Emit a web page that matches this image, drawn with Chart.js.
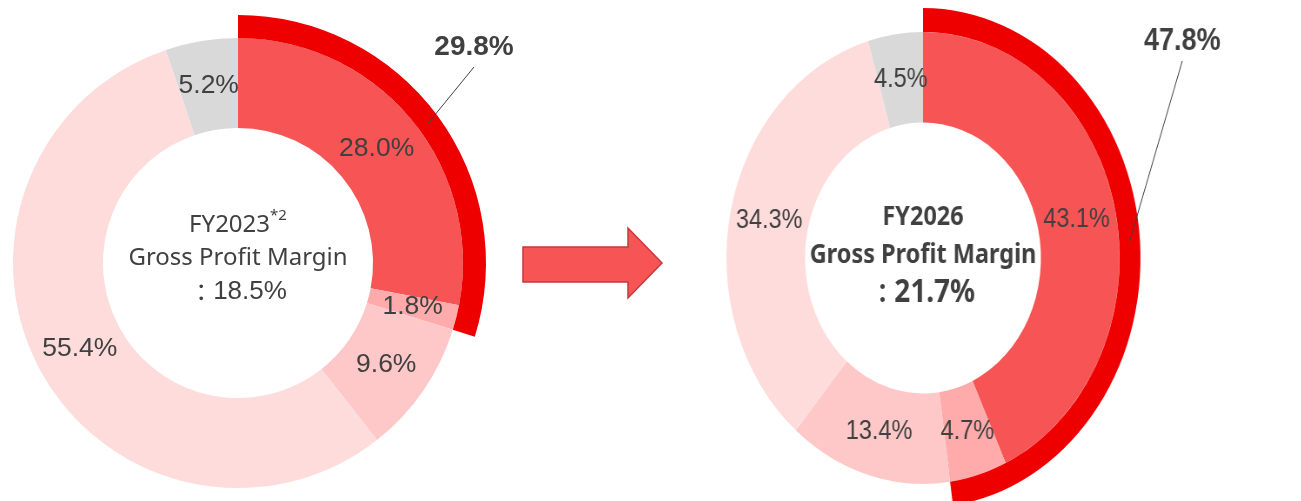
<!DOCTYPE html>
<html>
<head>
<meta charset="utf-8">
<script src="https://cdn.jsdelivr.net/npm/chart.js@4.4.0/dist/chart.umd.min.js"></script>
<style>
  html, body { margin: 0; padding: 0; width: 1301px; height: 501px; overflow: hidden; background: #fff; }
  canvas { position: absolute; }
  #fy2023 { left: -62px; top: 3px; }
  /* the FY2026 ring is drawn slightly narrower than tall */
  #fy2026 { left: 573px; top: -2px; transform: scaleX(0.87); transform-origin: 350px 260px; }
  #arrow { position: absolute; left: 0; top: 0; }
</style>
</head>
<body>
<canvas id="fy2023" width="600" height="520"></canvas>
<svg id="arrow" width="1301" height="501">
  <polygon points="523,247 628,247 628,228 662,263 628,298 628,282 523,282"
           fill="#F75555" stroke="#C23A3A" stroke-width="1.5"/>
</svg>
<canvas id="fy2026" width="700" height="520"></canvas>
<script>
// segment shares of sales, clockwise from 12 o'clock
const fy2023Shares = [28.0, 1.8, 9.6, 55.4, 5.2];
const fy2026Shares = [43.1, 4.7, 13.4, 34.3, 4.5];
// highlighted group (first two segments) shown as the outer red band
const fy2023Highlight = 29.8;
const fy2026Highlight = 47.8;
const fy2023Margin = 18.5;
const fy2026Margin = 21.7;

const sliceColors = ['#F75555', '#FFABAB', '#FFC8C8', '#FFDCDC', '#D9D9D9'];
const bandColor = '#EE0000';
const textColor = '#404040';

const pct = v => v.toFixed(1) + '%';

// slice labels, centre caption and the callout for the outer band
const donutText = {
  id: 'donutText',
  afterDraw(chart, args, opts) {
    const ctx = chart.ctx;
    const band = chart.getDatasetMeta(0).data[0];
    const ring = chart.getDatasetMeta(1).data;
    const cx = band.x, cy = band.y;
    ctx.save();
    ctx.fillStyle = textColor;
    ctx.textAlign = 'center';
    ctx.textBaseline = 'middle';

    ctx.font = opts.sliceFont;
    ring.forEach((arc, i) => {
      const p = arc.getCenterPoint();
      ctx.fillText(pct(chart.data.datasets[1].data[i]), p.x, p.y);
    });

    // centre caption, built from runs of differently styled text
    ctx.textAlign = 'left';
    opts.lines.forEach(line => {
      let w = 0;
      line.runs.forEach(r => { ctx.font = r.font; w += ctx.measureText(r.text).width; });
      let x = cx - w / 2;
      line.runs.forEach(r => {
        ctx.font = r.font;
        ctx.fillText(r.text, x, cy + line.dy - (r.rise || 0));
        x += ctx.measureText(r.text).width;
      });
    });

    // callout for the band total
    const end = band.getCenterPoint();
    const lx = cx + opts.callout.x, ly = cy + opts.callout.y;
    ctx.strokeStyle = textColor;
    ctx.lineWidth = 1;
    ctx.beginPath();
    ctx.moveTo(lx, ly + opts.callout.gap);
    ctx.lineTo(end.x, end.y);
    ctx.stroke();
    ctx.textAlign = 'center';
    ctx.font = opts.callout.font;
    ctx.fillText(pct(chart.data.datasets[0].data[0]), lx, ly);
    ctx.restore();
  }
};

function makeDonut(id, shares, highlight, radii, textOpts) {
  return new Chart(document.getElementById(id), {
    type: 'doughnut',
    data: {
      datasets: [
        {
          data: [highlight, 100 - highlight],
          backgroundColor: [bandColor, 'rgba(0,0,0,0)'],
          borderWidth: 0,
          weight: radii.outer - radii.ring
        },
        {
          data: shares,
          backgroundColor: sliceColors,
          borderWidth: 0,
          weight: radii.ring - radii.hole
        }
      ]
    },
    options: {
      responsive: false,
      animation: false,
      events: [],
      radius: radii.outer,
      cutout: (radii.hole / radii.outer * 100) + '%',
      plugins: {
        legend: { display: false },
        tooltip: { enabled: false },
        donutText: textOpts
      }
    },
    plugins: [donutText]
  });
}

makeDonut('fy2023', fy2023Shares, fy2023Highlight, { outer: 248, ring: 225, hole: 135 }, {
  sliceFont: '26.5px "Liberation Sans"',
  lines: [
    { dy: -38, runs: [{ text: 'FY2023', font: '24px "Noto Sans"' },
                      { text: '*2', font: '15px "Noto Sans"', rise: 9 }] },
    { dy: -5, runs: [{ text: 'Gross Profit Margin', font: '24px "Noto Sans"' }] },
    { dy: 29, runs: [{ text: '：', font: '24px "Noto Sans CJK JP"' },
                     { text: pct(fy2023Margin), font: '26px "Liberation Sans"' }] }
  ],
  callout: { x: 236, y: -216, gap: 20, font: 'bold 28px "Liberation Sans"' }
});

makeDonut('fy2026', fy2026Shares, fy2026Highlight, { outer: 250, ring: 226, hole: 135.5 }, {
  sliceFont: '27px "Liberation Sans"',
  lines: [
    { dy: -41, runs: [{ text: 'FY2026', font: 'bold 27px "Noto Sans"' }] },
    { dy: -3, runs: [{ text: 'Gross Profit Margin', font: 'bold 27px "Noto Sans"' }] },
    { dy: 35, runs: [{ text: '：', font: 'bold 27px "Noto Sans CJK JP"' },
                     { text: pct(fy2026Margin), font: 'bold 32px "Noto Sans"' }] }
  ],
  callout: { x: 298, y: -217, gap: 20, font: 'bold 31px "Liberation Sans"' }
});
</script>
</body>
</html>
